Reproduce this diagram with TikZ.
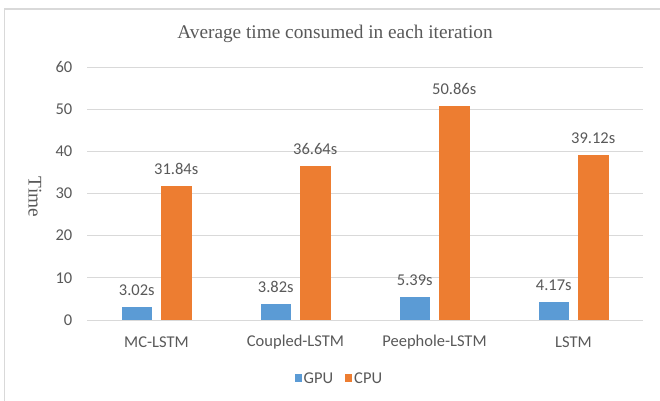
\documentclass[tikz,border=0pt]{standalone}
\usepackage{fontspec}
\setmainfont{Carlito}
\newfontfamily\titlefont{Liberation Serif}
\definecolor{gpucol}{HTML}{5B9BD5}
\definecolor{cpucol}{HTML}{ED7D31}
\definecolor{gridcol}{HTML}{D9D9D9}
\definecolor{framecol}{HTML}{D9D9D9}
\definecolor{txtcol}{HTML}{595959}
\tikzset{
  ticklbl/.style={anchor=east, text=txtcol, font=\fontsize{16.5}{18}\selectfont, inner sep=0pt},
  catlbl/.style={text=txtcol, font=\fontsize{16.5}{18}\selectfont, inner sep=0pt},
  vallbl/.style={text=txtcol, font=\fontsize{16.5}{18}\selectfont, inner sep=0pt},
  gridline/.style={draw=gridcol, line width=1pt},
  legkey/.style={inner sep=0pt, minimum size=7.5pt},
}
\begin{document}
\begin{tikzpicture}[x=1pt,y=-1pt]
\useasboundingbox (0,0) rectangle (660,400);
\fill[white] (0,0) rectangle (660,400);
% chart frame (only top and left edges fall inside the page)
\draw[framecol, line width=1.3pt] (4.5,405) -- (4.5,9) -- (665,9);
% title
\node[text=txtcol, font=\titlefont\fontsize{19.3}{21}\selectfont] (title) at (335,34) {Average time consumed in each iteration};
% axis title
\node[text=txtcol, font=\titlefont\fontsize{19.3}{21}\selectfont, rotate=-90] (ytitle) at (35,197) {Time};
% gridlines and tick labels
\foreach \v in {0,10,...,60}{
  \pgfmathsetmacro{\yy}{320-4.2167*\v}
  \draw[gridline] (87,\yy) -- (643,\yy);
  \node[ticklbl] (tick\v) at (72.5,\yy) {\v};
}
% bars and value labels
\foreach \cat/\cx/\g/\c [count=\i] in {MC-LSTM/156.5/3.02/31.84, Coupled-LSTM/295.5/3.82/36.64, Peephole-LSTM/434.5/5.39/50.86, LSTM/573.5/4.17/39.12}{
  \pgfmathsetmacro{\gy}{320-4.2167*\g}
  \pgfmathsetmacro{\cy}{320-4.2167*\c}
  \fill[gpucol] (\cx-35,320) rectangle (\cx-4.5,\gy);
  \fill[cpucol] (\cx+4.5,320) rectangle (\cx+35,\cy);
  \node[vallbl] (gl\i) at (\cx-19.75,\gy-17) {\g s};
  \node[vallbl] (cl\i) at (\cx+19.75,\cy-17) {\c s};
  \node[catlbl] (cat\i) at (\cx,342) {\cat};
}
% legend
\node[legkey, fill=gpucol] (kgpu) at (298.5,378) {};
\node[catlbl, anchor=west] (tgpu) at (303.5,378) {GPU};
\node[legkey, fill=cpucol] (kcpu) at (348.5,378) {};
\node[catlbl, anchor=west] (tcpu) at (354,378) {CPU};
\end{tikzpicture}
\end{document}
